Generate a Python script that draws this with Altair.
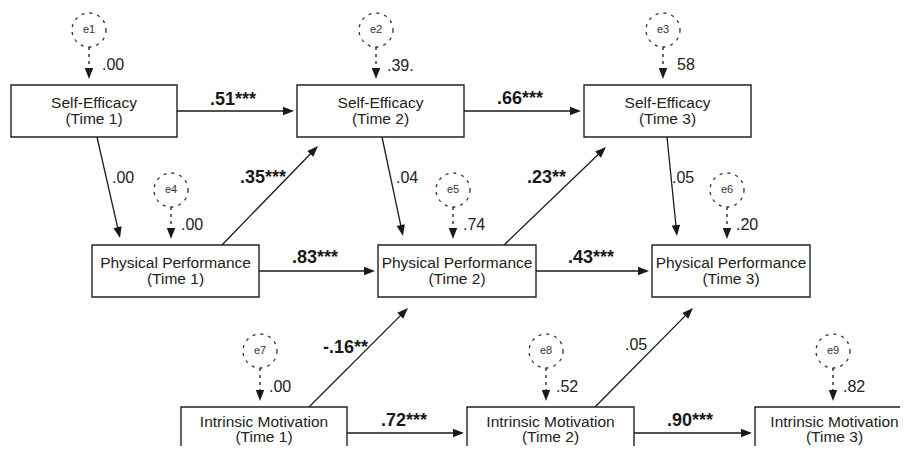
import math
import altair as alt
import pandas as pd

# ---------------- data ----------------
node_ids = ["SE1", "SE2", "SE3", "PP1", "PP2", "PP3", "IM1", "IM2", "IM3"]
node_line1 = ["Self-Efficacy"] * 3 + ["Physical Performance"] * 3 + ["Intrinsic Motivation"] * 3
node_line2 = ["(Time 1)", "(Time 2)", "(Time 3)"] * 3

error_ids = ["e1", "e2", "e3", "e4", "e5", "e6", "e7", "e8", "e9"]
error_labels = [".00", ".39.", "58", ".00", ".74", ".20", ".00", ".52", ".82"]

path_from = ["SE1", "SE2", "PP1", "PP2", "IM1", "IM2", "SE1", "SE2", "SE3", "PP1", "PP2", "IM1", "IM2"]
path_to = ["SE2", "SE3", "PP2", "PP3", "IM2", "IM3", "PP1", "PP2", "PP3", "SE2", "SE3", "PP2", "PP3"]
path_labels = [".51***", ".66***", ".83***", ".43***", ".72***", ".90***",
               ".00", ".04", ".05", ".35***", ".23**", "-.16**", ".05"]
path_bold = [True, True, True, True, True, True, False, False, False, True, True, True, False]

# ---------------- layout (diagram canvas, px) ----------------
box_left = [11, 297, 584, 92, 378, 652, 181, 467, 755]
box_right = [177, 464, 751, 259, 536, 810, 347, 634, 922]
box_top = [85, 85, 85, 245, 245, 245, 407, 407, 407]
box_bottom = [137, 137, 137, 297, 297, 297, 459, 459, 459]
# text baselines inside boxes (offset from box top); bottom row sits at the page edge
text1_off = [23, 23, 23, 23, 23, 23, 19.5, 19.5, 19.5]
text2_off = [39, 39, 39, 39, 39, 39, 35, 35, 35]
text_dx = [0, 0, 0, 0, 0, 0, 0, 0, -4]

err_cx = [89, 376, 663, 171, 453, 727, 260, 546, 833]
err_cy = [30, 30, 30, 190, 190, 190, 351, 351, 351]
err_r = 17
err_label_x = [102, 387, 677, 181, 463, 736, 269, 556, 843]
err_label_y = [70, 71, 70, 230, 230, 230, 392, 392, 392]

path_x0 = [177, 464, 259, 536, 347, 634, 97, 382, 667, 222, 504, 309, 595]
path_y0 = [111, 111, 271, 271, 433, 433, 137, 137, 137, 245, 245, 407, 407]
path_x1 = [294, 581, 375, 649, 464, 752, 120, 403, 677, 318, 606, 408, 693]
path_y1 = [111, 111, 271, 271, 433, 433, 238, 236, 236, 146, 147, 308, 308]
path_label_x = [210, 497, 292, 568, 381, 667, 112, 396, 672, 240, 527, 323, 625]
path_label_y = [105, 104, 263, 263, 426, 426, 183, 183, 183, 183, 183, 353, 350]

HEAD = 11  # arrowhead length
INK = "#1a1a1a"
FONT = "Liberation Sans"

W, H = 892, 438
xs = alt.Scale(domain=[8, 8 + W], nice=False, zero=False)
ys = alt.Scale(domain=[8, 8 + H], nice=False, zero=False, reverse=True)


def X(f):
    return alt.X(f, type="quantitative", scale=xs, axis=None)


def Y(f):
    return alt.Y(f, type="quantitative", scale=ys, axis=None)


# ---------------- tables ----------------
nodes = pd.DataFrame({
    "id": node_ids, "l1": node_line1, "l2": node_line2,
    "x0": box_left, "x1": box_right, "y0": box_top, "y1": box_bottom,
})
nodes["cx"] = (nodes.x0 + nodes.x1) / 2 + pd.Series(text_dx)
nodes["t1"] = nodes.y0 + pd.Series(text1_off)
nodes["t2"] = nodes.y0 + pd.Series(text2_off)

err = pd.DataFrame({
    "id": error_ids, "label": error_labels, "cx": err_cx, "cy": err_cy,
    "lx": err_label_x, "ly": err_label_y,
})

# arrows (paths + error arrows)
arr_rows = []
for i in range(len(path_from)):
    arr_rows.append(dict(x0=path_x0[i], y0=path_y0[i], x1=path_x1[i], y1=path_y1[i], dashed=False))
for i in range(len(error_ids)):
    arr_rows.append(dict(x0=err_cx[i], y0=err_cy[i] + err_r, x1=err_cx[i], y1=box_top[i] - 6, dashed=True))
arrows = pd.DataFrame(arr_rows)
dx = arrows.x1 - arrows.x0
dy = arrows.y1 - arrows.y0
ln = (dx ** 2 + dy ** 2) ** 0.5
arrows["ang"] = [(math.degrees(math.atan2(a, -b)) + 360) % 360 for a, b in zip(dx, dy)]
arrows["lx1"] = arrows.x1 - dx / ln * (HEAD - 2)
arrows["ly1"] = arrows.y1 - dy / ln * (HEAD - 2)

plabels = pd.DataFrame({"label": path_labels, "bold": path_bold, "x": path_label_x, "y": path_label_y})

# ---------------- layers ----------------
solid_lines = alt.Chart(arrows[~arrows.dashed]).mark_rule(color=INK, strokeWidth=1.3).encode(
    x=X("x0"), y=Y("y0"), x2="lx1", y2="ly1")
dashed_lines = alt.Chart(arrows[arrows.dashed]).mark_rule(
    color=INK, strokeWidth=1.3, strokeDash=[3, 4]).encode(
    x=X("x0"), y=Y("y0"), x2="lx1", y2="ly1")

heads = alt.Chart(arrows).mark_point(
    shape="M0,0L-0.38,1L0.38,1Z", filled=True, size=(2 * HEAD) ** 2,
    color=INK, opacity=1, strokeWidth=0).encode(
    x=X("x1"), y=Y("y1"), angle=alt.Angle("ang:Q", scale=None))

boxes = alt.Chart(nodes).mark_rect(fill="white", stroke="#222222", strokeWidth=1.4).encode(
    x=X("x0"), x2="x1", y=Y("y0"), y2="y1")

box_t1 = alt.Chart(nodes).mark_text(font=FONT, fontSize=15.5, color="#222222",
                                    align="center", baseline="alphabetic").encode(
    x=X("cx"), y=Y("t1"), text="l1:N")
box_t2 = alt.Chart(nodes).mark_text(font=FONT, fontSize=15.5, color="#222222",
                                    align="center", baseline="alphabetic").encode(
    x=X("cx"), y=Y("t2"), text="l2:N")

circles = alt.Chart(err).mark_point(
    shape="circle", size=(2 * err_r) ** 2, filled=False, stroke="#333333",
    strokeWidth=1.3, strokeDash=[3, 5], opacity=1).encode(x=X("cx"), y=Y("cy"))
circle_text = alt.Chart(err).mark_text(font=FONT, fontSize=11, color="#333333",
                                       align="center", baseline="middle").encode(
    x=X("cx"), y=Y("cy"), text="id:N")
err_text = alt.Chart(err).mark_text(font=FONT, fontSize=16, color="#222222",
                                    align="left", baseline="alphabetic").encode(
    x=X("lx"), y=Y("ly"), text="label:N")

bold_text = alt.Chart(plabels[plabels.bold]).mark_text(
    font=FONT, fontSize=18, fontWeight="bold", color="#1a1a1a",
    align="left", baseline="alphabetic").encode(x=X("x"), y=Y("y"), text="label:N")
norm_text = alt.Chart(plabels[~plabels.bold]).mark_text(
    font=FONT, fontSize=16, color="#222222",
    align="left", baseline="alphabetic").encode(x=X("x"), y=Y("y"), text="label:N")

chart = alt.layer(
    solid_lines, dashed_lines, heads, boxes, box_t1, box_t2,
    circles, circle_text, err_text, bold_text, norm_text,
).properties(
    width=W, height=H, padding=0,
    autosize=alt.AutoSizeParams(type="none"),
    background="white",
).configure_view(stroke=None)

chart.save("out.html", embed_options={"renderer": "svg", "actions": False})
